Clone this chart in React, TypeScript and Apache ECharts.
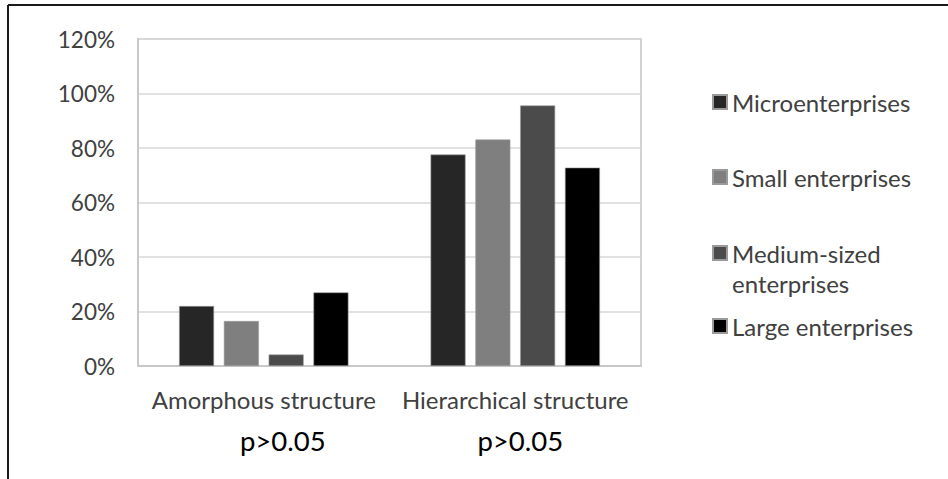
import React, { useEffect, useRef } from "react";
import * as echarts from "echarts";

const categories = ["Amorphous structure", "Hierarchical structure"];
const pValues = ["p>0.05", "p>0.05"];
const seriesNames = ["Microenterprises", "Small enterprises", "Medium-sized enterprises", "Large enterprises"];
const micro = [22, 77.6];
const small = [16.5, 83.1];
const medium = [4.2, 95.6];
const large = [27, 72.8];
const yTicks = { min: 0, max: 120, interval: 20 };

const colors = ["#262626", "#7f7f7f", "#4b4b4b", "#000000"];
const FONT = "Lato";

export default function App() {
  const ref = useRef<HTMLDivElement>(null);
  useEffect(() => {
    if (!ref.current) return;
    const chart = echarts.init(ref.current, null, { renderer: "svg" });
    const values = [micro, small, medium, large];
    const legendTops = [88, 163, 208, 312];
    const legends = seriesNames.map((name, i) => ({
      show: true,
      data: [name],
      left: 712,
      top: legendTops[i],
      padding: 0,
      icon: "rect",
      itemWidth: 14,
      itemHeight: 14,
      selectedMode: false,
      formatter: i === 2 ? "\nMedium-sized\nenterprises" : "{name}",
      textStyle: {
        fontFamily: FONT,
        fontSize: 24,
        color: "#404040",
        lineHeight: i === 2 ? 30 : 28,
      },
    }));
    chart.setOption({
      animation: false,
      backgroundColor: "#ffffff",
      textStyle: { fontFamily: FONT },
      grid: {
        left: 138,
        right: 307,
        top: 39,
        bottom: 113,
        show: true,
        borderColor: "#c4c4c4",
        borderWidth: 1.5,
        containLabel: false,
        outerBoundsMode: "none",
      },
      legend: legends,
      xAxis: {
        type: "category",
        data: categories,
        axisTick: { show: false },
        axisLine: { lineStyle: { color: "#c4c4c4", width: 1.5 } },
        axisLabel: {
          interval: 0,
          margin: 18,
          formatter: (value: string, index: number) =>
            `{c|${value}}\n{p${index}|${pValues[index]}}`,
          rich: {
            c: { fontFamily: FONT, fontSize: 24, color: "#404040", lineHeight: 30 },
            p0: { fontFamily: FONT, fontSize: 27.5, color: "#000000", lineHeight: 52, padding: [0, 0, 0, 38] },
            p1: { fontFamily: FONT, fontSize: 27.5, color: "#000000", lineHeight: 52, padding: [0, 0, 0, 10] },
          },
        },
      },
      yAxis: {
        type: "value",
        min: yTicks.min,
        max: yTicks.max,
        interval: yTicks.interval,
        axisLine: { show: true, lineStyle: { color: "#c4c4c4", width: 1.5 } },
        axisTick: { show: false },
        splitLine: { lineStyle: { color: "#d9d9d9", width: 1.5 } },
        axisLabel: {
          formatter: "{value}%",
          margin: 23,
          fontFamily: FONT,
          fontSize: 22.5,
          color: "#404040",
        },
      },
      series: seriesNames.map((name, i) => ({
        name,
        type: "bar",
        data: values[i],
        barWidth: 35,
        barGap: "28%",
        itemStyle: { color: colors[i], borderColor: "#9a9a9a", borderWidth: 0.6 },
      })),
      color: colors,
      graphic: [
        { type: "line", shape: { x1: 8, y1: 5, x2: 948, y2: 5 }, style: { stroke: "#1a1a1a", lineWidth: 2 } },
        { type: "line", shape: { x1: 8, y1: 5, x2: 8, y2: 479 }, style: { stroke: "#1a1a1a", lineWidth: 2 } },
      ],
    });
    return () => chart.dispose();
  }, []);
  return (
    <div
      ref={ref}
      style={{ position: "fixed", left: 0, top: 0, width: 948, height: 479, background: "#fff" }}
    />
  );
}
